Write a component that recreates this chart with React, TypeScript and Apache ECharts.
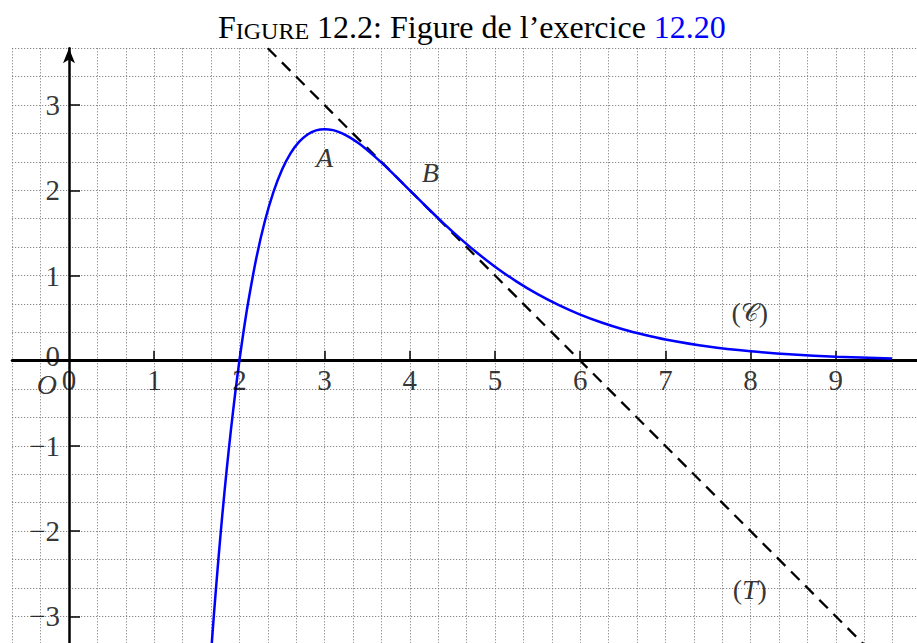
import React, { useEffect, useRef } from "react";
import * as echarts from "echarts";

// Curve (C): sampled points of the function
const curveX = [1.65, 1.7, 1.75, 1.8, 1.85, 1.9, 1.95, 2.0, 2.05, 2.1, 2.2, 2.3, 2.4, 2.5, 2.6, 2.7, 2.8, 2.9, 3.0, 3.1, 3.2, 3.3, 3.4, 3.5, 3.6, 3.7, 3.8, 3.9, 4.0, 4.2, 4.4, 4.6, 4.8, 5.0, 5.25, 5.5, 5.75, 6.0, 6.25, 6.5, 6.75, 7.0, 7.5, 8.0, 8.5, 9.0, 9.66];
const curveY = [-3.67, -2.992, -2.372, -1.805, -1.288, -0.817, -0.388, 0, 0.351, 0.669, 1.21, 1.642, 1.981, 2.241, 2.433, 2.568, 2.656, 2.704, 2.718, 2.706, 2.671, 2.618, 2.551, 2.473, 2.387, 2.295, 2.198, 2.1, 2.0, 1.801, 1.609, 1.427, 1.258, 1.104, 0.931, 0.781, 0.652, 0.541, 0.448, 0.369, 0.304, 0.249, 0.166, 0.11, 0.072, 0.047, 0.027];

// Tangent (T) at B: end points
const tangentX = [2.333, 9.333];
const tangentY = [3.667, -3.333];

// Axis tick labels
const xTicks = [0, 1, 2, 3, 4, 5, 6, 7, 8, 9];
const yTicks = [-3, -2, -1, 0, 1, 2, 3];

// Annotations (rich-text markup: u = upright, i = italic)
const noteText = ["{i|A}", "{i|B}", "{u|(}{s|𝒞}{u|)}", "{u|(}{i|T}{u|)}", "{i|O}"];
const noteX = [3.0, 4.24, 7.99, 7.99, -0.26];
const noteY = [2.38, 2.21, 0.56, -2.69, -0.28];

const SERIF = "'Liberation Serif', 'DejaVu Serif', serif";

const fmt = (n: number) => (n < 0 ? "−" + -n : String(n));

export default function App() {
  const ref = useRef<HTMLDivElement>(null);

  useEffect(() => {
    if (!ref.current) return;
    const chart = echarts.init(ref.current, null, { renderer: "svg" });
    const third = 1 / 3;
    const gridLine = { show: true, lineStyle: { color: "#6e6e6e", width: 1, type: [1, 2] } };
    const tickFont = { fontFamily: SERIF, fontSize: 29, color: "#000", fontWeight: "normal" as const };
    const hidden = { axisLine: { show: false }, axisTick: { show: false }, axisLabel: { show: false } };

    chart.setOption({
      animation: false,
      backgroundColor: "#ffffff",
      title: {
        left: 213,
        top: 6,
        text: "{a|F}{b|IGURE}{c| 12.2: Figure de l’exercice }{d|12.20}",
        textStyle: {
          fontWeight: "normal",
          rich: {
            a: { fontFamily: SERIF, fontSize: 32, fontWeight: "normal", color: "#000", verticalAlign: "bottom" },
            b: { fontFamily: SERIF, fontSize: 24, fontWeight: "normal", color: "#000", verticalAlign: "bottom" },
            c: { fontFamily: SERIF, fontSize: 32, fontWeight: "normal", color: "#000", verticalAlign: "bottom" },
            d: { fontFamily: SERIF, fontSize: 32, fontWeight: "normal", color: "#0000ff", verticalAlign: "bottom" },
          },
        },
      },
      grid: { left: 12.2, top: 48.3, right: -4, bottom: -1.7, containLabel: false, outerBoundsMode: "none" },
      xAxis: [
        {
          type: "value",
          min: -2 * third,
          max: 10,
          interval: third,
          axisLine: { show: true, onZero: true, lineStyle: { color: "#000", width: 3 } },
          axisTick: { show: true, inside: true, length: 10, customValues: xTicks.slice(1), lineStyle: { color: "#000", width: 1.5 } },
          axisLabel: { show: false },
          splitLine: { show: false },
          z: 3,
        },
        // dotted grid every third of a unit
        { type: "value", min: -2 * third, max: 10, interval: third, ...hidden, splitLine: gridLine },
      ],
      yAxis: [
        {
          type: "value",
          min: -10 * third,
          max: 11 * third,
          interval: third,
          axisLine: {
            show: true,
            onZero: true,
            symbol: ["none", "arrow"],
            symbolSize: [9, 15],
            lineStyle: { color: "#000", width: 2.5 },
          },
          axisTick: { show: true, inside: true, length: 11, customValues: yTicks.filter((v) => v !== 0), lineStyle: { color: "#000", width: 1.5 } },
          axisLabel: { show: false },
          splitLine: { show: false },
          z: 3,
        },
        { type: "value", min: -10 * third, max: 11 * third, interval: third, ...hidden, splitLine: gridLine },
      ],
      series: [
        {
          type: "line",
          name: "T",
          data: tangentX.map((x, i) => [x, tangentY[i]]),
          showSymbol: false,
          lineStyle: { color: "#000", width: 2.3, type: [12, 8] },
          z: 3,
        },
        {
          type: "line",
          name: "C",
          data: curveX.map((x, i) => [x, curveY[i]]),
          showSymbol: false,
          smooth: 0.3,
          lineStyle: { color: "#0000ff", width: 2.5 },
          z: 4,
        },
        {
          type: "scatter",
          name: "xLabels",
          symbolSize: 0,
          silent: true,
          data: xTicks.map((v) => ({ value: [v, 0], name: String(v) })),
          label: { show: true, position: "bottom", distance: 5, formatter: (p: any) => p.name, ...tickFont },
          z: 5,
        },
        {
          type: "scatter",
          name: "yLabels",
          symbolSize: 0,
          silent: true,
          data: yTicks.map((v) => ({
            value: [0, v],
            name: fmt(v),
            label: v === 0 ? { offset: [0, -5] } : undefined,
          })),
          label: { show: true, position: "left", distance: 9, formatter: (p: any) => p.name, ...tickFont },
          z: 5,
        },
        {
          type: "scatter",
          name: "notes",
          symbolSize: 0,
          silent: true,
          data: noteX.map((x, i) => ({ value: [x, noteY[i]], name: noteText[i] })),
          label: {
            show: true,
            position: "inside",
            formatter: (p: any) => p.name,
            rich: {
              i: { fontFamily: SERIF, fontStyle: "italic", fontSize: 28, color: "#000" },
              u: { fontFamily: SERIF, fontSize: 28, color: "#000" },
              s: { fontFamily: "'DejaVu Serif', 'DejaVu Sans', serif", fontSize: 24, color: "#000" },
            },
          },
          z: 5,
        },
      ],
    });

    return () => chart.dispose();
  }, []);

  return <div ref={ref} style={{ position: "absolute", left: 0, top: 0, width: 917, height: 643 }} />;
}
